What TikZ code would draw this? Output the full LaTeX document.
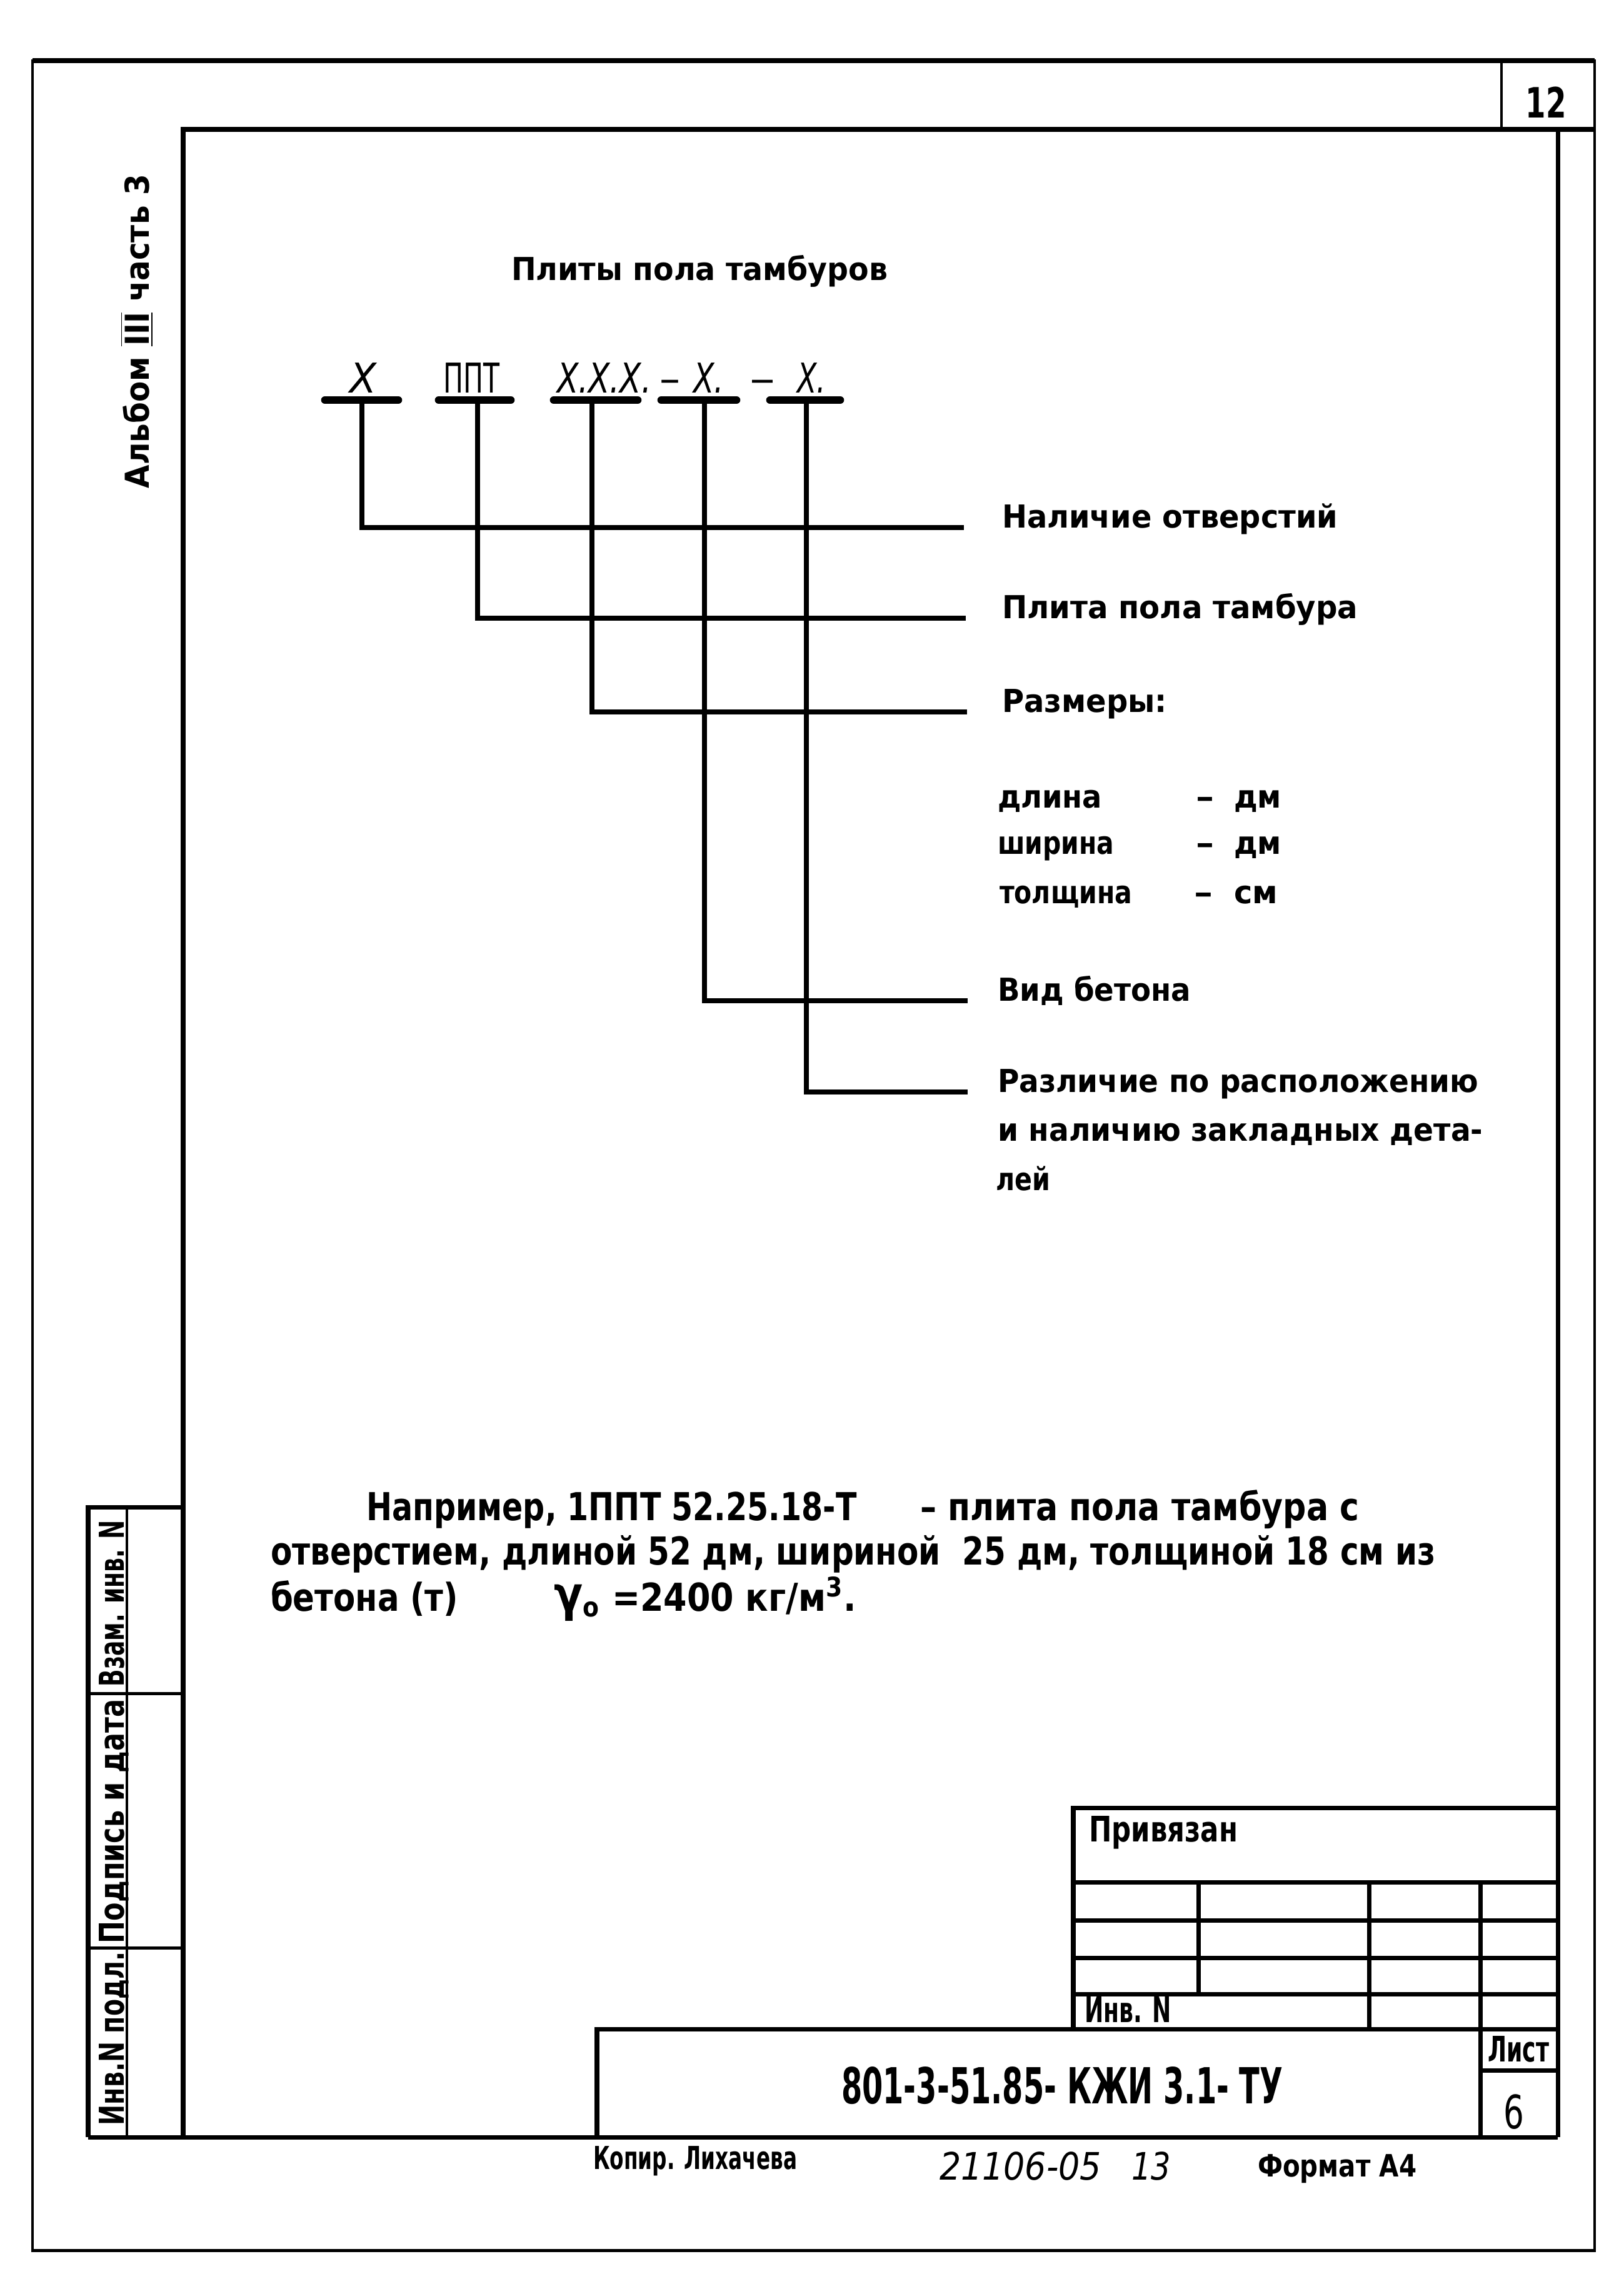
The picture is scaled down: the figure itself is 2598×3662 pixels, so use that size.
\documentclass[tikz,border=0pt]{standalone}
\usepackage{fontspec}
\setmainfont{DejaVu Sans}
\newfontfamily\condf[FakeStretch=0.7]{DejaVu Sans}
\newlength\fitlen
\newcommand\fitw[2]{\settowidth\fitlen{#2}\pgfmathsetmacro\fitsc{#1*0.284528/\fitlen}\scalebox{\fitsc}[1]{#2}}
\tikzset{
  fr/.style={line width=2pt},
  frt/.style={line width=1.4pt},
  ubar/.style={line width=3.6pt, line cap=round},
  lead/.style={line width=2.1pt},
  txt/.style={anchor=base west, inner sep=0pt, outer sep=0pt},
  lab/.style={txt, font=\fontsize{14.4}{16}\selectfont\bfseries},
  code/.style={txt, font=\condf\fontsize{18.7}{20}\selectfont},
  exs/.style={txt, font=\condf\fontsize{17.5}{20}\selectfont\bfseries},
  tb/.style={txt, font=\condf\fontsize{16}{18}\selectfont\bfseries},
  side/.style={txt, rotate=90, font=\condf\fontsize{15.6}{18}\selectfont\bfseries},
}
\begin{document}
\begin{tikzpicture}[x=0.01cm,y=-0.01cm]
\useasboundingbox (0,0) rectangle (2598,3662);
% outer frame
\draw[frt] (52,97) rectangle (2551,3600);
\draw[fr] (52,97) -- (2551,97);
\draw[frt] (2402,97) -- (2402,207);
% inner frame
\draw[fr] (293,3419) -- (293,207) -- (2551,207);
\draw[fr] (2492,207) -- (2492,3419);
\draw[fr] (141,3419) -- (2492,3419);
% side stamp
\draw[fr] (141,3419) -- (141,2411) -- (293,2411);
\draw[frt] (203,2411) -- (203,3419);
\draw[frt] (141,2709) -- (293,2709);
\draw[frt] (141,3116) -- (293,3116);
% title block
\draw[fr] (955,3419) -- (955,3246) -- (2492,3246);
\draw[fr] (2368,3011) -- (2368,3419);
\draw[fr] (2368,3312) -- (2492,3312);
\draw[fr] (1717,3246) -- (1717,2892) -- (2492,2892);
\draw[fr] (1717,3011) -- (2492,3011);
\draw[fr] (1717,3072) -- (2492,3072);
\draw[fr] (1717,3132) -- (2492,3132);
\draw[fr] (1717,3190) -- (2492,3190);
\draw[fr] (1917,3011) -- (1917,3190);
\draw[fr] (2190,3011) -- (2190,3246);

% page number
\node[tb, anchor=base, font=\condf\fontsize{19}{20}\selectfont\bfseries] (pg) at (2473,188) {12};

% side texts
\node[side, font=\fontsize{15}{18}\selectfont\bfseries] (alb) at (238,781) {\fitw{502}{Альбом $\overline{\underline{\hbox{III}}}$ часть 3}};
\node[side] (s1) at (198,2698) {\fitw{266}{Взам. инв. N}};
\node[side] (s2) at (198,3109) {\fitw{390}{Подпись и дата}};
\node[side] (s3) at (198,3400) {\fitw{277}{Инв.N подл.}};

% heading
\node[lab] (ttl) at (818,448) {\fitw{602}{Плиты пола тамбуров}};

% code
\node[code, font=\condf\fontsize{18.7}{20}\selectfont\itshape] (cX) at (559,628) {\fitw{43}{X}};
\node[code] (cP) at (709,628) {\fitw{90}{ППТ}};
\node[code, font=\condf\fontsize{18.7}{20}\selectfont\itshape] (cS) at (891,628) {\fitw{151}{X.X.X.}};
\node[code] (d1) at (1055,628) {\fitw{33}{–}};
\node[code, font=\condf\fontsize{18.7}{20}\selectfont\itshape] (cB) at (1109,628) {\fitw{49}{X.}};
\node[code] (d2) at (1199,628) {\fitw{41}{–}};
\node[code, font=\condf\fontsize{18.7}{20}\selectfont\itshape] (cR) at (1275,628) {\fitw{46}{X.}};

% underline bars
\coordinate (b1l) at (520,640); \coordinate (b1r) at (637,640); \coordinate (b1) at (579,640);
\coordinate (b2l) at (702,640); \coordinate (b2r) at (817,640); \coordinate (b2) at (764,640);
\coordinate (b3l) at (886,640); \coordinate (b3r) at (1020,640); \coordinate (b3) at (947,640);
\coordinate (b4l) at (1058,640); \coordinate (b4r) at (1178,640); \coordinate (b4) at (1127,640);
\coordinate (b5l) at (1232,640); \coordinate (b5r) at (1344,640); \coordinate (b5) at (1290,640);
\draw[ubar] (b1l) -- (b1r);
\draw[ubar] (b2l) -- (b2r);
\draw[ubar] (b3l) -- (b3r);
\draw[ubar] (b4l) -- (b4r);
\draw[ubar] (b5l) -- (b5r);

% labels
\node[lab] (l1) at (1603,844) {\fitw{537}{Наличие отверстий}};
\node[lab] (l2) at (1603,989) {\fitw{569}{Плита пола тамбура}};
\node[lab] (l3) at (1603,1139) {\fitw{264}{Размеры:}};
\node[lab] (r1) at (1596,1292) {\fitw{167}{длина}};
\node[lab] (r2) at (1596,1366) {\fitw{186}{ширина}};
\node[lab] (r3) at (1599,1445) {\fitw{212}{толщина}};
\node[lab] (q1) at (1913,1292) {\fitw{29}{–}};
\node[lab] (q2) at (1913,1366) {\fitw{29}{–}};
\node[lab] (q3) at (1910,1445) {\fitw{30}{–}};
\node[lab] (u1) at (1974,1292) {\fitw{76}{дм}};
\node[lab] (u2) at (1974,1366) {\fitw{76}{дм}};
\node[lab] (u3) at (1974,1445) {\fitw{70}{см}};
\node[lab] (l4) at (1596,1601) {\fitw{309}{Вид бетона}};
\node[lab] (l5) at (1596,1747) {\fitw{769}{Различие по расположению}};
\node[lab] (l5b) at (1596,1825) {\fitw{776}{и наличию закладных дета-}};
\node[lab] (l5c) at (1593,1904) {\fitw{87}{лей}};

% leader ends
\coordinate (e1) at (1542,844);
\coordinate (e2) at (1545,989);
\coordinate (e3) at (1547,1139);
\coordinate (e4) at (1548,1601);
\coordinate (e5) at (1548,1747);
\draw[lead] (b1) |- (e1);
\draw[lead] (b2) |- (e2);
\draw[lead] (b3) |- (e3);
\draw[lead] (b4) |- (e4);
\draw[lead] (b5) |- (e5);

% example
\node[exs] (x1) at (586,2432) {\fitw{784}{Например, 1ППТ 52.25.18-Т}};
\node[exs] (x2) at (1472,2432) {\fitw{702}{– плита пола тамбура с}};
\node[exs] (x3) at (433,2503) {\fitw{1862}{отверстием, длиной 52 дм, шириной \ 25 дм, толщиной 18 см из}};
\node[exs] (x4) at (433,2577) {\fitw{300}{бетона (т)}};
\node[exs] (x5) at (886,2577) {\fitw{484}{{\fontsize{22}{22}\selectfont γ}\textsubscript{о} =2400 кг/м\textsuperscript{3}.}};

% title block texts
\node[tb] (tp) at (1742,2946) {\fitw{238}{Привязан}};
\node[tb] (ti) at (1735,3235) {\fitw{139}{Инв. N}};
\node[tb] (tl) at (2380,3298) {\fitw{98}{Лист}};
\node[tb, anchor=base, font=\condf\fontsize{21}{22}\selectfont] (tn) at (2422,3405) {6};
\node[tb, font=\condf\fontsize{22.6}{24}\selectfont\bfseries] (tc) at (1346,3365) {\fitw{706}{801-3-51.85- КЖИ 3.1- ТУ}};

% bottom texts
\node[tb, font=\condf\fontsize{14.4}{16}\selectfont\bfseries] (k1) at (949,3470) {\fitw{326}{Копир. Лихачева}};
\node[tb, font=\condf\fontsize{17.2}{18}\selectfont\itshape] (k2) at (1503,3487) {\fitw{259}{21106-05}};
\node[tb, font=\condf\fontsize{17.2}{18}\selectfont\itshape] (k3) at (1810,3487) {\fitw{63}{13}};
\node[tb, font=\condf\fontsize{14}{16}\selectfont\bfseries] (k4) at (2012,3482) {\fitw{254}{Формат А4}};
\end{tikzpicture}
\end{document}
